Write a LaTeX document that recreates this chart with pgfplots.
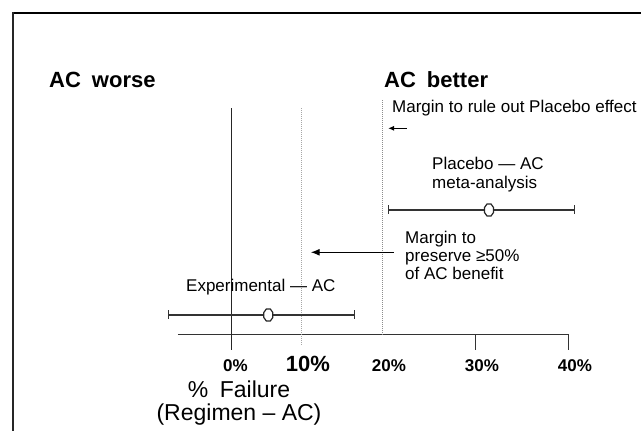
\documentclass[border=0pt]{standalone}
\usepackage{fontspec}
\setmainfont{Liberation Sans}
\usepackage{pgfplots}
\pgfplotsset{compat=1.18}
\usetikzlibrary{arrows.meta}

\pgfdeclareplotmark{hex}{%
 \pgfpathmoveto{\pgfqpoint{-2pt}{6pt}}%
 \pgfpathlineto{\pgfqpoint{2pt}{6pt}}%
 \pgfpathlineto{\pgfqpoint{4.5pt}{2.5pt}}%
 \pgfpathlineto{\pgfqpoint{4.5pt}{-2.5pt}}%
 \pgfpathlineto{\pgfqpoint{2pt}{-6pt}}%
 \pgfpathlineto{\pgfqpoint{-2pt}{-6pt}}%
 \pgfpathlineto{\pgfqpoint{-4.5pt}{-2.5pt}}%
 \pgfpathlineto{\pgfqpoint{-4.5pt}{2.5pt}}%
 \pgfpathclose
 \pgfusepathqfillstroke}

\newcommand{\fs}[1]{\fontsize{#1}{#1}\selectfont}

\begin{document}
\begin{tikzpicture}
\useasboundingbox (0pt,0pt) rectangle (641pt,431pt);
\fill[white] (0pt,0pt) rectangle (641pt,431pt);
\draw[line width=2.2pt] (12pt,418pt) -- (641pt,418pt);
\draw[line width=2pt, black!85] (13pt,0pt) -- (13pt,419pt);
\begin{axis}[
  at={(178pt,96pt)}, anchor=south west,
  scale only axis, width=391pt, height=235pt,
  xmin=-7.714, xmax=40, ymin=0, ymax=235,
  x coord trafo/.code={\pgfmathparse{(#1)<=10 ? 7*(#1) : ((#1)<=20 ? 70+8.1*((#1)-10) : 151+9.3*((#1)-20))}},
  x coord inv trafo/.code={\pgfmathparse{(#1)<=70 ? (#1)/7 : ((#1)<=151 ? 10+((#1)-70)/8.1 : 20+((#1)-151)/9.3)}},
  clip=false,
  axis x line*=bottom, axis y line=none,
  axis line style={black!80, line width=1pt},
  xtick={0,30,40},
  xticklabels={\hspace{-5pt}\textbf{0\%}, \textbf{30\%}, \textbf{40\%}},
  extra x ticks={10,20},
  extra x tick labels={{\fs{22}\textbf{10\%}}, \textbf{20\%}},
  extra x tick style={major tick length=0pt, tick label style={yshift=-15pt}},
  tick align=outside, major tick length=15pt,
  tick style={black!80, line width=1pt},
  xticklabel style={font={\fs{17}\bfseries}, anchor=base, yshift=-22pt, xshift=6pt},
  ytick=\empty,
]
% reference lines
\addplot[black!85, line width=1pt] coordinates {(0,-15) (0,227)};
\addplot[gray!70, densely dotted, line width=1pt] coordinates {(10,-10) (10,227)};
\addplot[gray!90, densely dotted, line width=1pt] coordinates {(20,0) (20,235)};

% confidence intervals
\addplot[black!80, line width=1.2pt, mark=|, mark size=4.5pt, mark options={solid, line width=1.2pt}] coordinates {(-9.1,20) (16.46,20)};
\addplot[only marks, mark=hex, mark options={fill=white, draw=black!85, line width=1.2pt}] coordinates {(5.19,20)};

\addplot[black!80, line width=1.2pt, mark=|, mark size=4.5pt, mark options={solid, line width=1.2pt}] coordinates {(20.57,125) (40.57,125)};
\addplot[only marks, mark=hex, mark options={fill=white, draw=black!85, line width=1.2pt}] coordinates {(31.40,125)};

% arrows
\draw[-{Latex[length=9pt,width=7pt]}, line width=1.3pt] (axis cs:21.18,82.7) -- (axis cs:11.07,82.7);
\draw[-{Latex[length=6pt,width=5pt]}, line width=1.2pt] (axis cs:22.55,206.7) -- (axis cs:20.54,206.7);

% texts
\node[anchor=base west, inner sep=0pt, font={\fs{22}\bfseries}] at (axis cs:-26.14,247) {AC\hspace{0.5em}worse};
\node[anchor=base west, inner sep=0pt, font={\fs{22}\bfseries}] at (axis cs:20.11,247) {AC\hspace{0.5em}better};
\node[anchor=base west, inner sep=0pt, font={\fs{17}}] at (axis cs:20.97,222) {Margin to rule out Placebo effect};
\node[anchor=base west, inner sep=0pt, font={\fs{17}}] at (axis cs:25.27,165) {Placebo — AC};
\node[anchor=base west, inner sep=0pt, font={\fs{17}}] at (axis cs:25.27,146) {meta-analysis};
\node[anchor=base west, inner sep=0pt, font={\fs{17}}] at (axis cs:22.37,91) {Margin to};
\node[anchor=base west, inner sep=0pt, font={\fs{17}}] at (axis cs:22.37,73) {preserve ≥50\%};
\node[anchor=base west, inner sep=0pt, font={\fs{17}}] at (axis cs:22.37,55) {of AC benefit};
\node[anchor=base west, inner sep=0pt, font={\fs{17}}] at (axis cs:-6.57,43) {Experimental — AC};
\node[anchor=base, inner sep=0pt, font={\fs{23}}] at (axis cs:1.0,-63) {\%\hspace{0.5em}Failure};
\node[anchor=base, inner sep=0pt, font={\fs{23}}] at (axis cs:1.0,-86) {(Regimen – AC)};
\end{axis}
\end{tikzpicture}
\end{document}
